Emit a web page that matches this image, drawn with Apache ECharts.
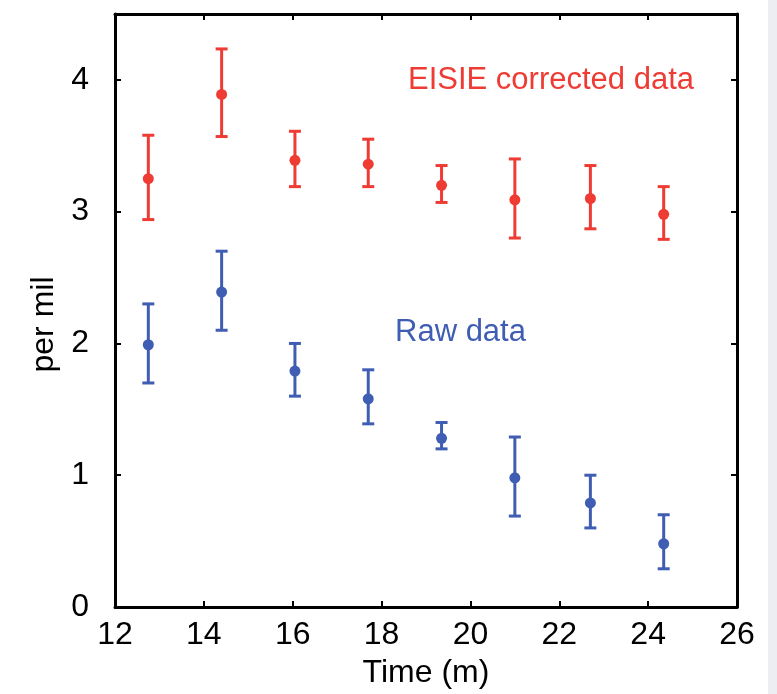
<!DOCTYPE html>
<html style="height: 100%">
<head>
    <meta charset="utf-8">
    <script src="https://cdn.jsdelivr.net/npm/echarts@6/dist/echarts.min.js"></script>
</head>
<body style="height: 100%; margin: 0; background: #fff">
    <div id="container" style="width: 777px; height: 694px"></div>
    <script type="text/javascript">
        // time (m)
        var time = [12.75, 14.4, 16.05, 17.7, 19.35, 21.0, 22.7, 24.35];
        // EISIE corrected data (per mil)
        var corrected = [3.25, 3.89, 3.39, 3.36, 3.2, 3.09, 3.1, 2.98];
        var correctedLow = [2.94, 3.57, 3.19, 3.19, 3.07, 2.8, 2.87, 2.79];
        var correctedHigh = [3.58, 4.235, 3.61, 3.55, 3.35, 3.4, 3.35, 3.19];
        // raw data (per mil)
        var raw = [1.99, 2.39, 1.79, 1.58, 1.28, 0.98, 0.79, 0.48];
        var rawLow = [1.7, 2.1, 1.6, 1.39, 1.2, 0.69, 0.6, 0.29];
        var rawHigh = [2.3, 2.7, 2.0, 1.8, 1.4, 1.29, 1.0, 0.7];

        var RED = '#EE3B33';
        var BLUE = '#3F5DB3';
        var FONT = 'Liberation Sans, Arial, sans-serif';

        var dom = document.getElementById('container');
        var myChart = echarts.init(dom);

        function points(ys) {
            return time.map(function (t, i) { return [t, ys[i]]; });
        }
        function bars(lo, hi) {
            return time.map(function (t, i) { return [t, lo[i], hi[i]]; });
        }

        function errorBar(color) {
            return function (params, api) {
                var x = api.value(0);
                var lo = api.coord([x, api.value(1)]);
                var hi = api.coord([x, api.value(2)]);
                var half = 6;
                var style = { stroke: color, lineWidth: 3 };
                return {
                    type: 'group',
                    children: [
                        { type: 'line', shape: { x1: lo[0], y1: lo[1], x2: hi[0], y2: hi[1] }, style: style },
                        { type: 'line', shape: { x1: lo[0] - half, y1: lo[1], x2: lo[0] + half, y2: lo[1] }, style: style },
                        { type: 'line', shape: { x1: hi[0] - half, y1: hi[1], x2: hi[0] + half, y2: hi[1] }, style: style }
                    ]
                };
            };
        }

        var frameLine = { show: true, onZero: false, lineStyle: { color: '#000', width: 3 } };
        var inTick = { show: true, inside: true, length: 6, lineStyle: { color: '#000', width: 2 } };

        var option = {
            animation: false,
            textStyle: { fontFamily: FONT },
            grid: { left: 115, right: 40, top: 14, bottom: 86 },
            xAxis: [
                {
                    type: 'value', min: 12, max: 26, interval: 2,
                    name: 'Time (m)', nameLocation: 'middle', nameGap: 50,
                    nameTextStyle: { fontSize: 32, color: '#000', fontFamily: FONT },
                    axisLine: frameLine, axisTick: inTick,
                    axisLabel: { fontSize: 32, color: '#000', margin: 12, fontFamily: FONT },
                    splitLine: { show: false }
                },
                {
                    type: 'value', position: 'top', min: 12, max: 26, interval: 2,
                    axisLine: frameLine, axisTick: inTick,
                    axisLabel: { show: false }, splitLine: { show: false }
                }
            ],
            yAxis: [
                {
                    type: 'value', min: 0, max: 4.5, interval: 1,
                    name: 'per mil', nameLocation: 'middle', nameGap: 52,
                    nameTextStyle: { fontSize: 32, color: '#000', fontFamily: FONT, padding: [0, 28, 0, 0] },
                    axisLine: frameLine, axisTick: inTick,
                    axisLabel: { fontSize: 32, color: '#000', margin: 26, showMaxLabel: false, fontFamily: FONT },
                    splitLine: { show: false }
                },
                {
                    type: 'value', position: 'right', min: 0, max: 4.5, interval: 1,
                    axisLine: frameLine, axisTick: inTick,
                    axisLabel: { show: false }, splitLine: { show: false }
                }
            ],
            graphic: [
                { type: 'rect', left: 768, top: 0, shape: { width: 9, height: 694 }, style: { fill: '#eceef2' }, silent: true },
                { type: 'text', left: 408, top: 65, style: { text: 'EISIE corrected data', fill: RED, font: '31px ' + FONT } },
                { type: 'text', left: 395, top: 317, style: { text: 'Raw data', fill: BLUE, font: '31px ' + FONT } }
            ],
            series: [
                { name: 'EISIE corrected error', type: 'custom', renderItem: errorBar(RED), data: bars(correctedLow, correctedHigh), encode: { x: 0, y: [1, 2] }, z: 2 },
                { name: 'EISIE corrected data', type: 'scatter', data: points(corrected), symbolSize: 11, itemStyle: { color: RED, opacity: 1 }, z: 3 },
                { name: 'Raw error', type: 'custom', renderItem: errorBar(BLUE), data: bars(rawLow, rawHigh), encode: { x: 0, y: [1, 2] }, z: 2 },
                { name: 'Raw data', type: 'scatter', data: points(raw), symbolSize: 11, itemStyle: { color: BLUE, opacity: 1 }, z: 3 }
            ]
        };

        myChart.setOption(option);
    </script>
</body>
</html>
